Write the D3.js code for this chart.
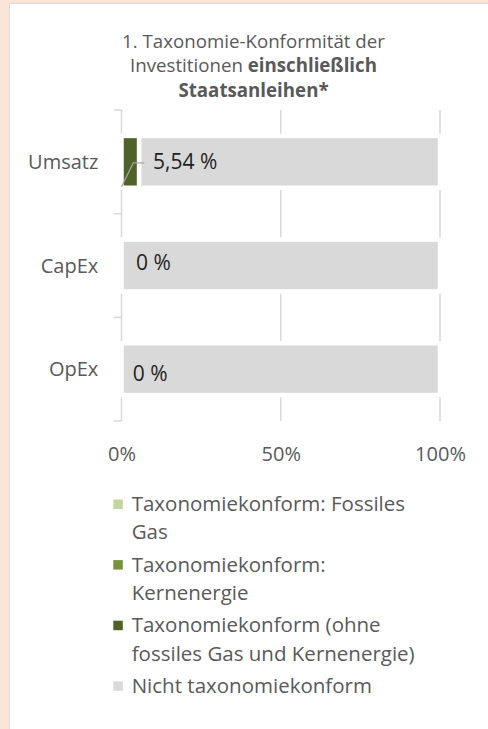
<!DOCTYPE html>
<html>
<head>
<meta charset="utf-8">
<script src="https://cdn.jsdelivr.net/npm/d3@7"></script>
<style>
  body { margin: 0; background: #FBE5D6; }
  svg { display: block; font-family: "Open Sans", sans-serif; }
</style>
</head>
<body>
<svg id="chart" width="488" height="729"></svg>
<script>
// chart data
var categories = ["Umsatz", "CapEx", "OpEx"];
var seriesNames = [
  "Taxonomiekonform: Fossiles Gas",
  "Taxonomiekonform: Kernenergie",
  "Taxonomiekonform (ohne fossiles Gas und Kernenergie)",
  "Nicht taxonomiekonform"
];
var fossilGas = [0, 0, 0];
var nuclear = [0, 0, 0];
var alignedOther = [5.54, 0, 0];
var notAligned = [94.46, 100, 100];
var dataLabels = ["5,54 %", "0 %", "0 %"];
var xTicks = [0, 50, 100];

// legend text wrapped like the original
var legendLines = [
  ["Taxonomiekonform: Fossiles", "Gas"],
  ["Taxonomiekonform:", "Kernenergie"],
  ["Taxonomiekonform (ohne", "fossiles Gas und Kernenergie)"],
  ["Nicht taxonomiekonform"]
];
var colors = ["#C3D69B", "#77933C", "#4F6228", "#D9D9D9"];

var svg = d3.select("#chart");

// white chart panel
svg.append("rect")
  .attr("x", 9.5).attr("y", 3.5)
  .attr("width", 500).attr("height", 740)
  .attr("fill", "#fff")
  .attr("stroke", "#D9D9D9");

// title
var title = svg.append("text")
  .attr("text-anchor", "middle")
  .attr("fill", "#595959")
  .style("font-size", "18.7px");
title.append("tspan").attr("x", 253.5).attr("y", 47.5)
  .text("1. Taxonomie-Konformität der");
var t2 = title.append("tspan").attr("x", 253.5).attr("y", 72);
t2.append("tspan").text("Investitionen ");
t2.append("tspan").attr("font-weight", "bold").text("einschließlich");
title.append("tspan").attr("x", 253.5).attr("y", 96.5)
  .attr("font-weight", "bold").text("Staatsanleihen*");

// scales
var x = d3.scaleLinear().domain([0, 100]).range([121.5, 440]);
var y = d3.scaleBand().domain(categories)
  .range([110, 421]).paddingInner(0.5).paddingOuter(0.25);

var yTop = y.range()[0], yBottom = y.range()[1];

// vertical gridlines
svg.append("g")
  .selectAll("line")
  .data(xTicks.filter(function(d) { return d > 0; }))
  .enter().append("line")
    .attr("x1", function(d) { return x(d); })
    .attr("x2", function(d) { return x(d); })
    .attr("y1", yTop).attr("y2", yBottom)
    .attr("stroke", "#D9D9D9").attr("stroke-width", 1.6);

// left axis with ticks between categories
var boundaries = categories.map(function(c) {
  return y(c) - y.step() * y.paddingInner() / 2;
});
boundaries.push(yBottom);
var yAxis = svg.append("g").attr("stroke", "#D9D9D9").attr("stroke-width", 1.5);
yAxis.append("line")
  .attr("x1", x(0)).attr("x2", x(0))
  .attr("y1", yTop).attr("y2", yBottom);
yAxis.selectAll(".tk")
  .data(boundaries)
  .enter().append("line")
    .attr("class", "tk")
    .attr("x1", x(0) - 7.5).attr("x2", x(0))
    .attr("y1", function(d) { return d; })
    .attr("y2", function(d) { return d; });

svg.append("g")
  .selectAll("text")
  .data(categories)
  .enter().append("text")
    .attr("x", x(0) - 23.2)
    .attr("y", function(c) { return y(c) + y.bandwidth() / 2 + 7; })
    .attr("text-anchor", "end")
    .attr("fill", "#595959")
    .style("font-size", "20px")
    .text(function(c) { return c; });

// stacked bars
var rows = categories.map(function(c, i) {
  return { cat: c, gas: fossilGas[i], nuc: nuclear[i], other: alignedOther[i], not: notAligned[i] };
});
var stack = d3.stack().keys(["gas", "nuc", "other", "not"]);
var layers = stack(rows);

svg.append("g")
  .selectAll("g")
  .data(layers)
  .enter().append("g")
    .attr("fill", function(d, i) { return colors[i]; })
  .selectAll("rect")
  .data(function(d) { return d.filter(function(s) { return s[1] - s[0] > 0; }); })
  .enter().append("rect")
    .attr("x", function(s) { return x(s[0]); })
    .attr("width", function(s) { return x(s[1]) - x(s[0]); })
    .attr("y", function(s) { return y(s.data.cat); })
    .attr("height", y.bandwidth())
    .attr("stroke", "#fff")
    .attr("stroke-width", 4.5);

// data labels (manually moved in the original)
var labelShift = [{ dx: 31.5, dy: 0 }, { dx: 14.5, dy: -3 }, { dx: 11.2, dy: 4 }];

svg.append("g")
  .selectAll("text")
  .data(categories)
  .enter().append("text")
    .attr("x", function(c, i) { return x(0) + labelShift[i].dx; })
    .attr("y", function(c, i) { return y(c) + y.bandwidth() / 2 + labelShift[i].dy + 7.5; })
    .attr("fill", "#1F1F1F")
    .style("font-size", "21px")
    .text(function(c, i) { return dataLabels[i]; });

// leader line for the Umsatz label
var yU = y(categories[0]);
svg.append("polyline")
  .attr("points", [
      [x(0), yU + y.bandwidth() - 1],
      [x(0) + 11.8, yU + y.bandwidth() / 2 + 1],
      [x(0) + 22.8, yU + y.bandwidth() / 2 + 1]
    ].map(function(p) { return p.join(","); }).join(" "))
  .attr("fill", "none")
  .attr("stroke", "#A6A6A6")
  .attr("stroke-width", 1.3);

// bottom axis labels
var xAxis = svg.append("g")
  .attr("transform", "translate(0," + yBottom + ")")
  .call(d3.axisBottom(x).tickValues(xTicks).tickSize(0).tickPadding(25.5)
    .tickFormat(function(d) { return d + "%"; }));
xAxis.select(".domain").remove();
xAxis.selectAll("text")
  .attr("fill", "#595959")
  .style("font-size", "20px")
  .style("font-family", "'Open Sans', sans-serif");

// legend
var lineH = 28.4, entryGap = 32.2;
var legend = svg.append("g");
var base = 511;
legendLines.forEach(function(lines, i) {
  legend.append("rect")
    .attr("x", 113.3).attr("y", base - 11.5)
    .attr("width", 9.5).attr("height", 9.5)
    .attr("fill", colors[i]);
  var t = legend.append("text")
    .attr("fill", "#595959")
    .style("font-size", "20.5px");
  lines.forEach(function(l, j) {
    t.append("tspan").attr("x", 131.7).attr("y", base + j * lineH).text(l);
  });
  base += (lines.length - 1) * lineH + entryGap;
});
</script>
</body>
</html>
